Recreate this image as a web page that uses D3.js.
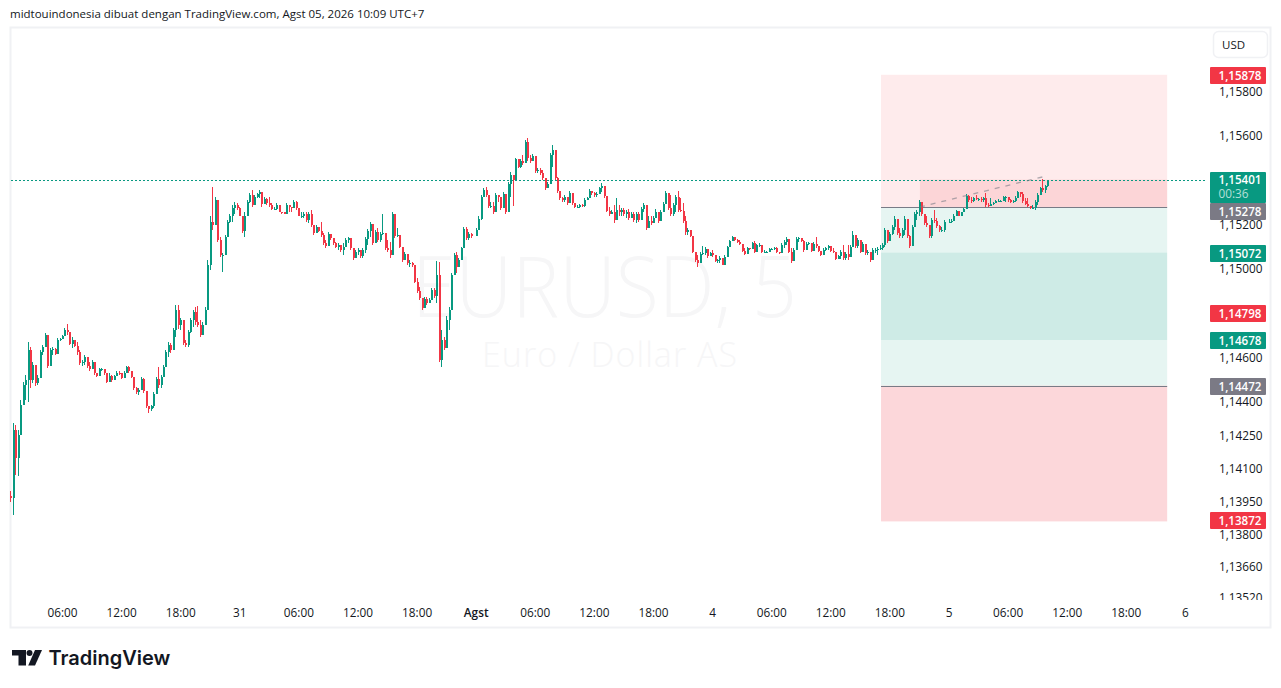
<!DOCTYPE html>
<html>
<head>
<meta charset="utf-8">
<script src="https://cdn.jsdelivr.net/npm/d3@7"></script>
<style>
  html, body { margin: 0; padding: 0; background: #fff; overflow: hidden; }
  svg { display: block; }
  text { font-family: "Open Sans", "Noto Sans", sans-serif; }
</style>
</head>
<body>
<svg id="chart" width="1281" height="688"></svg>
<script>
// 15 minute candles: [high, low, close], in points above 1.10000
const jul30 = [
  [3999,3949,3967],[4305,3891,4274],[4296,4071,4148],[4274,4066,4251],[4409,4319,4387],[4490,4423,4477],[4522,4409,4499],[4671,4400,4635],
  [4648,4463,4499],[4581,4486,4567],[4545,4472,4486],[4522,4477,4508],[4635,4513,4626],[4657,4612,4648],[4711,4648,4702],[4603,4553,4563],
  [4644,4590,4635],[4648,4612,4639],[4644,4612,4617],[4689,4657,4680],[4689,4675,4684],[4702,4684,4698],[4734,4702,4725],[4752,4702,4716],
  [4702,4657,4662],[4693,4644,4680],[4680,4648,4653],[4671,4612,4626],[4635,4567,4576],[4590,4563,4581],[4612,4567,4603],[4590,4553,4563],
  [4581,4536,4545],[4590,4545,4581],[4554,4522,4527],[4531,4513,4517],[4554,4522,4545],[4554,4536,4549],[4545,4522,4527],[4522,4486,4490],
  [4527,4499,4517],[4522,4490,4499],[4522,4499,4517],[4536,4522,4531],[4536,4522,4527],[4531,4504,4508],[4536,4513,4531],[4563,4545,4558],
  [4563,4531,4536],[4531,4508,4513],[4513,4454,4463],[4468,4436,4445],[4463,4432,4454],[4513,4454,4504],[4508,4441,4450],[4441,4373,4382],
  [4378,4351,4369],[4387,4360,4382],[4445,4373,4436],[4513,4445,4504],[4558,4463,4477],[4522,4463,4513],[4567,4513,4558],[4635,4567,4626],
  [4671,4603,4657],[4666,4621,4635],[4734,4635,4725],[4838,4693,4815],[4838,4729,4747],[4779,4725,4770],[4761,4657,4666],[4680,4648,4657],
  [4725,4648,4716],[4779,4711,4770],[4815,4738,4806],[4829,4747,4761],[4833,4738,4747],[4770,4693,4702],[4761,4702,4747],[4829,4756,4815],
  [5041,4860,5018],[5235,4995,5212],[5370,5176,5198],[5325,5212,5311],[5235,5122,5131],[5144,5054,5063],[5072,4986,5063],[5153,5072,5144],
  [5221,5144,5212],[5244,5207,5235],[5289,5212,5275],[5302,5244,5289],[5298,5266,5275],[5280,5244,5257]
]
const jul31 = [
  [5266,5235,5239],[5212,5162,5171],[5253,5144,5239],[5311,5257,5302],[5343,5298,5334],[5356,5280,5289],[5334,5302,5325],[5343,5320,5338],
  [5356,5320,5347],[5343,5280,5293],[5325,5298,5316],[5320,5289,5298],[5325,5280,5289],[5298,5266,5271],[5280,5266,5271],[5298,5266,5289],
  [5275,5253,5257],[5257,5248,5253],[5253,5248,5248],[5298,5248,5289],[5289,5253,5280],[5280,5257,5275],[5311,5280,5302],[5307,5266,5275],
  [5275,5235,5239],[5257,5230,5239],[5253,5230,5244],[5257,5212,5221],[5253,5207,5244],[5266,5189,5198],[5198,5153,5162],[5198,5167,5189],
  [5189,5167,5171],[5212,5144,5153],[5162,5108,5117],[5131,5095,5104],[5167,5131,5158],[5144,5131,5140],[5140,5108,5117],[5122,5095,5099],
  [5117,5086,5108],[5108,5077,5086],[5117,5063,5099],[5140,5108,5131],[5144,5117,5140],[5140,5086,5095],[5086,5041,5050],[5086,5054,5077],
  [5095,5063,5086],[5077,5050,5059],[5095,5050,5086],[5144,5072,5135],[5180,5108,5171],[5212,5144,5203],[5176,5108,5117],[5176,5144,5167],
  [5185,5122,5131],[5167,5122,5158],[5244,5153,5162],[5162,5086,5095],[5131,5077,5086],[5122,5050,5063],[5257,5144,5244],[5221,5140,5149],
  [5185,5144,5153],[5131,5095,5099],[5086,5032,5041],[5077,5050,5068],[5041,5018,5023],[5041,5009,5027],[5032,5005,5014],[5005,4937,4941],
  [4959,4892,4901],[4919,4860,4869],[4860,4815,4824],[4874,4838,4865],[4874,4838,4847],[4869,4847,4860],[4914,4860,4905],[4914,4869,4878],
  [5036,4847,4973],[5032,4581,4590],[4725,4558,4680],[4693,4635,4644],[4784,4666,4770],[4829,4725,4815],[4982,4847,4973],[5072,4973,5063],
  [5077,4982,5005],[5050,5018,5041],[5099,5086,5095],[5189,5131,5180],[5189,5131,5140],[5167,5131,5158],[5162,5140,5149]
]
const aug1 = [
  [5185,5162,5176],[5235,5189,5225],[5334,5221,5325],[5365,5325,5356],[5370,5325,5334],[5320,5275,5284],[5302,5275,5284],[5302,5248,5257],
  [5343,5275,5334],[5334,5302,5325],[5320,5266,5275],[5347,5302,5338],[5302,5244,5253],[5392,5320,5383],[5437,5325,5424],[5415,5284,5401],
  [5501,5478,5492],[5478,5455,5460],[5492,5455,5483],[5514,5469,5478],[5582,5501,5573],[5591,5483,5501],[5514,5478,5487],[5519,5483,5510],
  [5478,5433,5442],[5455,5433,5446],[5455,5424,5433],[5446,5401,5410],[5401,5356,5365],[5392,5365,5383],[5523,5392,5514],[5559,5460,5537],
  [5492,5401,5410],[5415,5343,5352],[5334,5311,5320],[5325,5302,5311],[5334,5302,5325],[5320,5289,5298],[5352,5325,5343],[5334,5289,5298],
  [5298,5275,5280],[5289,5275,5280],[5293,5275,5289],[5293,5280,5284],[5320,5280,5311],[5325,5311,5320],[5360,5320,5352],[5347,5334,5343],
  [5347,5325,5334],[5347,5325,5338],[5370,5343,5365],[5388,5347,5374],[5360,5320,5329],[5311,5253,5262],[5280,5235,5244],[5266,5244,5257],
  [5289,5207,5221],[5320,5253,5266],[5289,5235,5253],[5275,5235,5266],[5275,5235,5244],[5266,5230,5257],[5271,5221,5230],[5257,5235,5248],
  [5253,5212,5221],[5253,5207,5244],[5257,5212,5221],[5280,5244,5271],[5298,5253,5289],[5253,5176,5185],[5235,5207,5216],[5235,5198,5207],
  [5235,5212,5230],[5271,5230,5257],[5253,5207,5216],[5266,5235,5257],[5302,5266,5293],[5352,5298,5343],[5325,5266,5275],[5334,5235,5248],
  [5298,5235,5289],[5334,5257,5325],[5352,5253,5266],[5320,5253,5262],[5298,5207,5216],[5235,5153,5167],[5185,5153,5176],[5162,5144,5149],
  [5144,5072,5077],[5077,5032,5041],[5063,5009,5023],[5077,5032,5068],[5104,5063,5072],[5099,5063,5090],[5086,5050,5059],[5077,5063,5072]
]
const aug4 = [
  [5086,5054,5063],[5050,5032,5036],[5045,5027,5041],[5059,5027,5050],[5032,5014,5018],[5063,5027,5054],[5104,5086,5099],[5131,5108,5126],
  [5149,5126,5144],[5144,5126,5131],[5135,5117,5122],[5131,5108,5113],[5104,5077,5081],[5095,5063,5068],[5099,5077,5095],[5095,5086,5090],
  [5122,5104,5117],[5126,5072,5077],[5113,5095,5108],[5117,5099,5108],[5108,5072,5077],[5086,5072,5077],[5081,5072,5077],[5095,5081,5090],
  [5095,5086,5090],[5099,5086,5095],[5099,5072,5077],[5077,5068,5072],[5117,5072,5108],[5131,5095,5122],[5144,5108,5135],[5108,5072,5077],
  [5095,5027,5036],[5095,5050,5086],[5144,5086,5135],[5144,5122,5140],[5140,5122,5126],[5131,5077,5086],[5122,5095,5113],[5122,5108,5117],
  [5108,5077,5081],[5122,5095,5113],[5144,5095,5104],[5099,5077,5081],[5077,5059,5063],[5095,5072,5086],[5099,5081,5095],[5108,5086,5104],
  [5099,5077,5081],[5095,5072,5077],[5077,5041,5045],[5063,5045,5059],[5086,5045,5077],[5108,5041,5050],[5077,5041,5068],[5108,5041,5054],
  [5108,5077,5099],[5171,5099,5153],[5144,5095,5104],[5140,5095,5131],[5108,5072,5077],[5122,5077,5113],[5108,5063,5072],[5086,5063,5077],
  [5063,5032,5041],[5095,5050,5086],[5095,5072,5086],[5099,5063,5090],[5108,5086,5095],[5117,5086,5108],[5185,5099,5176],[5153,5117,5126],
  [5167,5131,5158],[5198,5153,5189],[5235,5176,5225],[5189,5153,5162],[5185,5140,5149],[5185,5140,5176],[5235,5153,5225],[5176,5140,5149],
  [5153,5095,5104],[5198,5144,5189],[5257,5212,5248],[5266,5221,5257],[5311,5235,5302],[5289,5235,5244],[5235,5198,5207],[5235,5189,5198],
  [5185,5140,5149],[5230,5140,5221],[5266,5207,5216],[5230,5185,5194],[5198,5167,5176],[5189,5167,5176],[5221,5167,5212]
]
const aug5 = [
  [5225,5207,5212],[5225,5207,5216],[5244,5221,5239],[5266,5235,5262],[5257,5235,5239],[5257,5244,5253],[5275,5253,5271],[5338,5275,5329],
  [5334,5302,5311],[5325,5298,5307],[5325,5302,5320],[5334,5311,5316],[5320,5307,5316],[5325,5302,5311],[5325,5302,5320],[5343,5280,5289],
  [5298,5280,5284],[5320,5289,5293],[5302,5289,5298],[5311,5302,5307],[5316,5302,5307],[5311,5302,5307],[5329,5307,5325],[5329,5302,5325],
  [5320,5302,5311],[5316,5298,5302],[5311,5298,5307],[5329,5302,5320],[5352,5320,5347],[5347,5325,5338],[5347,5298,5307],[5320,5289,5293],
  [5320,5280,5284],[5280,5271,5275],[5289,5271,5275],[5311,5266,5302],[5343,5289,5334],[5370,5334,5365],[5406,5347,5356],[5379,5343,5374],
  [5401,5370,5401]
]
// hours since Jul 30 00:00 at which each day's first candle opens
const sessions = [[0.75, jul30], [24, jul31], [48, aug1], [72, aug4], [96, aug5]]

const timeTicks = d3.range(6, 121, 6)
const timeLabels = ['06:00','12:00','18:00','31','06:00','12:00','18:00','Agst','06:00','12:00','18:00','4',
  '06:00','12:00','18:00','5','06:00','12:00','18:00','6']
const priceTicks = [1.158, 1.156, 1.152, 1.15, 1.146, 1.144, 1.1425, 1.141, 1.1395, 1.138, 1.1366, 1.1352]

const lastPrice = 1.15401
const tagTexts = ['1,15878', '1,15278', '1,15072', '1,14798', '1,14678', '1,14472', '1,13872']
const tagLevels = [1.15874, 1.15278, 1.15072, 1.14798, 1.14678, 1.14472, 1.13865]
const tagKinds = ['red', 'gray', 'teal', 'red', 'teal', 'gray', 'red']

// position tool zones
const zoneHours = [89.15, 118.2]
const activeHour = 93.1
const zoneTop = [1.15874, lastPrice, 1.15278, 1.15072, 1.14678, 1.14472]
const zoneBottom = [1.15278, 1.15278, 1.15072, 1.14678, 1.14472, 1.13860]
const zoneKinds = ['redSoft', 'redActive', 'tealSoft', 'tealStrong', 'tealSoft', 'redStrong']
const entryLevels = [1.15278, 1.14472]
const trendHours = [93.1, 105.7]
const trendPrices = [1.15278, 1.15415]

const RED = '#F23645', TEAL = '#089981', GRAY = '#787B86'
const zoneFill = {
  redSoft: 'rgba(242,54,69,0.1)', redActive: 'rgba(242,54,69,0.12)', redStrong: 'rgba(242,54,69,0.2)',
  tealSoft: 'rgba(8,153,129,0.1)', tealStrong: 'rgba(8,153,129,0.2)'
}
const tagFill = {red: RED, teal: TEAL, gray: '#7b7a85'}

const toPrice = v => 1.1 + v / 1e5
let prev = jul30[0][2] + 8
const candles = []
sessions.forEach(([start, bars]) => {
  bars.forEach((b, i) => {
    candles.push({hour: start + i * 0.25, high: toPrice(b[0]), low: toPrice(b[1]), open: toPrice(prev), close: toPrice(b[2])})
    prev = b[2]
  })
})

const x = d3.scaleLinear().domain([0, 120]).range([2.9, 1184.9])
const y = d3.scaleLinear().domain([1.16085, 1.13492]).range([28, 603])

const svg = d3.select('#chart')

svg.append('defs').append('clipPath').attr('id', 'scale-clip')
  .append('rect').attr('x', 0).attr('y', 28).attr('width', 70).attr('height', 571.5)

svg.append('text').attr('x', 10).attr('y', 18)
  .attr('font-size', 11.5).attr('fill', '#131722')
  .text('midtouindonesia dibuat dengan TradingView.com, Agst 05, 2026 10:09 UTC+7')

svg.append('rect').attr('x', 10.5).attr('y', 27.5).attr('width', 1260).attr('height', 600)
  .attr('fill', 'none').attr('stroke', '#f0f1f4').attr('stroke-width', 2)

// watermark
const mark = svg.append('g').attr('fill', '#f6f6f7').attr('font-weight', 300)
mark.append('text').attr('x', 412).attr('y', 317).attr('font-size', 84)
  .attr('textLength', 385).attr('lengthAdjust', 'spacingAndGlyphs').text('EURUSD, 5')
mark.append('text').attr('x', 482).attr('y', 367).attr('font-size', 34)
  .attr('textLength', 255).attr('lengthAdjust', 'spacing').text('Euro / Dollar AS')

// position tool zones
svg.append('g').selectAll('rect').data(zoneKinds).join('rect')
  .attr('x', d => x(d === 'redActive' ? activeHour : zoneHours[0]))
  .attr('width', d => x(zoneHours[1]) - x(d === 'redActive' ? activeHour : zoneHours[0]))
  .attr('y', (d, i) => y(zoneTop[i]))
  .attr('height', (d, i) => y(zoneBottom[i]) - y(zoneTop[i]))
  .attr('fill', d => zoneFill[d])

svg.append('g').selectAll('line').data(entryLevels).join('line')
  .attr('x1', x(zoneHours[0])).attr('x2', x(zoneHours[1]))
  .attr('y1', d => Math.round(y(d)) + 0.5).attr('y2', d => Math.round(y(d)) + 0.5)
  .attr('stroke', GRAY).attr('stroke-width', 1)

// last price line
svg.append('line').attr('x1', 11).attr('x2', 1207)
  .attr('y1', Math.round(y(lastPrice)) + 0.5).attr('y2', Math.round(y(lastPrice)) + 0.5)
  .attr('shape-rendering', 'crispEdges')
  .attr('stroke', TEAL).attr('stroke-width', 1).attr('stroke-dasharray', '2 2')

// candles
const color = d => d.close >= d.open ? TEAL : RED
const plot = svg.append('g').attr('shape-rendering', 'crispEdges')
plot.selectAll('rect.wick').data(candles).join('rect').attr('class', 'wick')
  .attr('x', d => Math.round(x(d.hour)))
  .attr('width', 1)
  .attr('y', d => y(d.high))
  .attr('height', d => Math.max(1, y(d.low) - y(d.high)))
  .attr('fill', color)
plot.selectAll('rect.body').data(candles).join('rect').attr('class', 'body')
  .attr('x', d => Math.round(x(d.hour)))
  .attr('width', 2.4)
  .attr('y', d => y(Math.max(d.open, d.close)))
  .attr('height', d => Math.max(1, Math.abs(y(d.open) - y(d.close))))
  .attr('fill', color)

// trend line of the tool
svg.append('path')
  .attr('d', d3.line().x((d, i) => x(trendHours[i])).y(d => y(d))(trendPrices))
  .attr('fill', 'none').attr('stroke', 'rgba(120,123,134,0.6)').attr('stroke-width', 1.3)
  .attr('stroke-dasharray', '5 6')

// axes
const timeAxis = svg.append('g').attr('transform', 'translate(0,613)')
  .call(d3.axisBottom(x).tickValues(timeTicks).tickSize(0).tickPadding(0)
    .tickFormat((d, i) => timeLabels[i]))
timeAxis.select('.domain').remove()
timeAxis.selectAll('text').attr('font-size', 11.8).attr('fill', '#131722').attr('dy', '0.35em')
  .attr('font-weight', (d, i) => timeLabels[i] === 'Agst' ? 600 : 400)
  .style('font-family', '"Open Sans", "Noto Sans", sans-serif')

const priceAxis = svg.append('g').attr('transform', 'translate(1219,0.5)').attr('clip-path', 'url(#scale-clip)')
  .call(d3.axisRight(y).tickValues(priceTicks).tickSize(0).tickPadding(0)
    .tickFormat(d => d3.format('.5f')(d).replace('.', ',')))
priceAxis.select('.domain').remove()
priceAxis.selectAll('text').attr('font-size', 11.8).attr('fill', '#131722')
  .style('font-family', '"Open Sans", "Noto Sans", sans-serif')

// price tags; the live price box pushes a colliding tag below it
const liveTop = 172, liveBottom = 203
const tagTop = level => {
  const top = Math.round(y(level)) - 8
  return top >= liveTop && top < liveBottom ? liveBottom : top
}
const tags = svg.append('g').selectAll('g').data(tagTexts).join('g')
  .attr('transform', (d, i) => `translate(1210,${tagTop(tagLevels[i])})`)
tags.append('rect').attr('width', 56).attr('height', 17).attr('rx', 1).attr('fill', (d, i) => tagFill[tagKinds[i]])
tags.append('text').attr('x', 8.5).attr('y', 13).attr('font-size', 11.6).attr('font-weight', 600)
  .attr('fill', '#fff').text(d => d)

const last = svg.append('g').attr('transform', `translate(1210,${liveTop})`)
last.append('rect').attr('width', 56).attr('height', liveBottom - liveTop).attr('rx', 1).attr('fill', TEAL)
last.append('text').attr('x', 8.5).attr('y', 12).attr('font-size', 11.6).attr('font-weight', 600)
  .attr('fill', '#fff').text(d3.format('.5f')(lastPrice).replace('.', ','))
last.append('text').attr('x', 8.5).attr('y', 26).attr('font-size', 11.8)
  .attr('fill', 'rgba(255,255,255,0.7)').text('00:36')

// currency button
svg.append('rect').attr('x', 1213.5).attr('y', 31.5).attr('width', 54).attr('height', 26).attr('rx', 5)
  .attr('fill', '#fff').attr('stroke', '#f0f1f4').attr('stroke-width', 1.5)
svg.append('text').attr('x', 1222).attr('y', 49).attr('font-size', 11.5).attr('fill', '#131722').text('USD')

// logo
const logo = svg.append('g').attr('fill', '#131722')
logo.append('path').attr('d', 'M12 650H26V665.5H18.5V655.6H12Z')
logo.append('circle').attr('cx', 29.5).attr('cy', 653).attr('r', 3)
logo.append('path').attr('d', 'M35 650H42L35 665.5H28.2Z')
logo.append('text').attr('x', 48.5).attr('y', 665).attr('font-size', 20).attr('font-weight', 600)
  .style('font-family', 'Inter, sans-serif').text('TradingView')
</script>
</body>
</html>
